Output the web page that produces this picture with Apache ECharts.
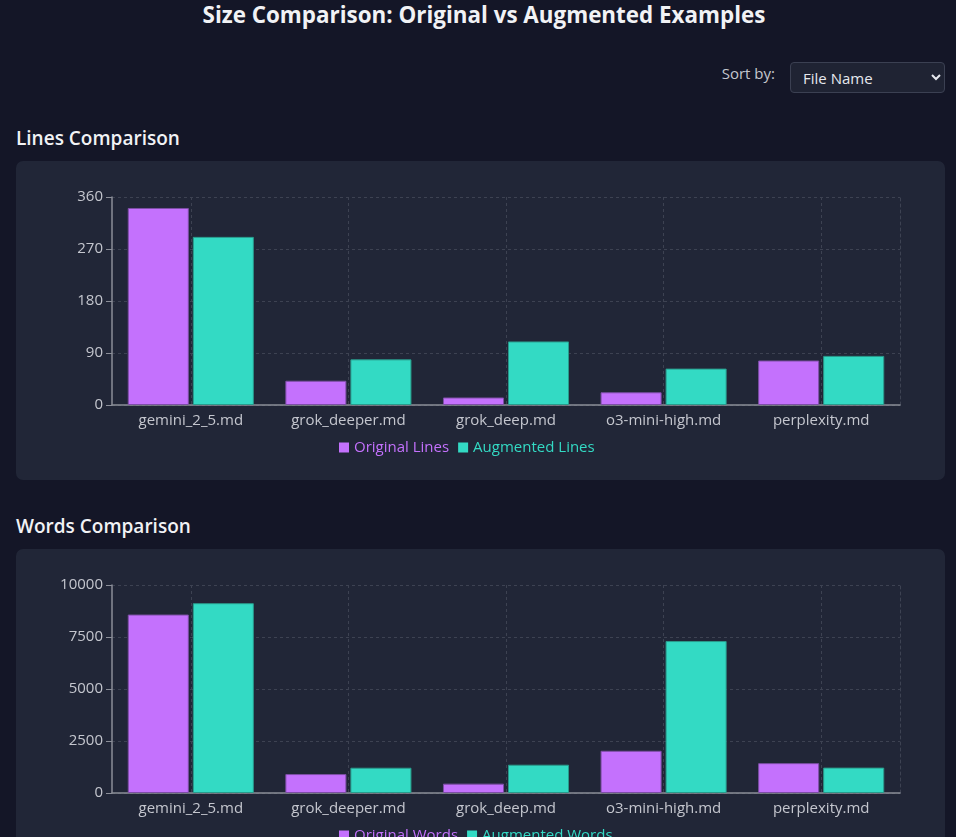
<!DOCTYPE html>
<html>
<head>
<meta charset="utf-8">
<title>Size Comparison</title>
<script src="https://cdn.jsdelivr.net/npm/echarts@6/dist/echarts.min.js"></script>
<style>
  html, body {
    margin: 0;
    padding: 0;
    width: 956px;
    height: 837px;
    overflow: hidden;
    background: #141627;
    font-family: 'Open Sans', 'Noto Sans', sans-serif;
    color: #f1f2f5;
  }
  h1 {
    position: absolute;
    left: 6px;
    width: 956px;
    top: 0;
    margin: 0;
    text-align: center;
    font-size: 22.4px;
    font-weight: 700;
    line-height: 30px;
  }
  .sort {
    position: absolute;
    top: 62px;
    right: 11px;
    display: flex;
    align-items: flex-start;
    gap: 15px;
  }
  .sort label {
    font-size: 15px;
    color: #c4c6ce;
    line-height: 22px;
  }
  .sort select {
    width: 155px;
    height: 31px;
    background: #1f2333;
    color: #e6e8ee;
    border: 1px solid #3b4052;
    border-radius: 4px;
    font-family: inherit;
    font-size: 15px;
    padding: 0 8px;
    color-scheme: dark;
  }
  h2 {
    position: absolute;
    left: 16px;
    margin: 0;
    font-size: 19px;
    font-weight: 600;
    line-height: 26px;
  }
  .card {
    position: absolute;
    left: 16px;
    width: 929px;
    height: 319px;
    background: #212637;
    border-radius: 7px;
  }
</style>
</head>
<body>
<h1>Size Comparison: Original vs Augmented Examples</h1>
<div class="sort">
  <label>Sort by:</label>
  <select><option>File Name</option></select>
</div>

<h2 style="top:125px">Lines Comparison</h2>
<div class="card" id="linesChart" style="top:161px"></div>

<h2 style="top:513px">Words Comparison</h2>
<div class="card" id="wordsChart" style="top:549px"></div>

<script>
// file names, sorted by name
const files = ['gemini_2_5.md', 'grok_deeper.md', 'grok_deep.md', 'o3-mini-high.md', 'perplexity.md'];

const originalLines = [341, 42, 13, 22, 77];
const augmentedLines = [291, 79, 110, 63, 85];

const originalWords = [8580, 910, 450, 2030, 1435];
const augmentedWords = [9125, 1215, 1360, 7305, 1220];

const purple = '#c471fd';
const teal = '#33dac4';
const gridColor = '#3d4252';
const axisColor = '#8b8e98';
const labelColor = '#c4c6ce';

function buildOption(origName, augName, orig, aug, max, interval) {
  return {
    textStyle: { fontFamily: "'Open Sans', 'Noto Sans', sans-serif" },
    grid: { left: 96, right: 45, top: 36, height: 208 },
    legend: {
      left: 318,
      top: 274,
      itemWidth: 10,
      itemHeight: 10,
      itemGap: 9,
      icon: 'rect',
      itemStyle: { borderWidth: 0 },
      textStyle: { fontSize: 15 },
      data: [
        { name: origName, textStyle: { color: purple } },
        { name: augName, textStyle: { color: teal } },
      ],
    },
    xAxis: {
      type: 'category',
      data: files,
      axisLine: { lineStyle: { color: axisColor, width: 1.5 } },
      axisTick: { alignWithLabel: true, length: 6, lineStyle: { color: axisColor } },
      axisLabel: { color: labelColor, fontSize: 15, margin: 8 },
      splitLine: {
        show: true,
        alignWithLabel: true,
        lineStyle: { color: gridColor, type: [3, 3] },
      },
    },
    yAxis: [
      {
        type: 'value',
        min: 0,
        max: max,
        interval: interval,
        axisLine: { show: true, lineStyle: { color: axisColor, width: 1.5 } },
        axisTick: { show: true, length: 6, lineStyle: { color: axisColor } },
        axisLabel: { color: labelColor, fontSize: 15, margin: 9, formatter: (v) => String(v) },
        splitLine: { lineStyle: { color: gridColor, type: [3, 3] } },
      },
      {
        type: 'value',
        position: 'right',
        min: 0,
        max: max,
        interval: interval,
        axisLine: { show: true, lineStyle: { color: gridColor, type: [3, 3] } },
        axisTick: { show: false },
        axisLabel: { show: false },
        splitLine: { show: false },
      },
    ],
    series: [
      {
        name: origName,
        type: 'bar',
        data: orig,
        barGap: '6.5%',
        barCategoryGap: '20%',
        itemStyle: { color: purple, borderColor: '#7d4fa6', borderWidth: 1 },
      },
      {
        name: augName,
        type: 'bar',
        data: aug,
        itemStyle: { color: teal, borderColor: '#2a9b8c', borderWidth: 1 },
      },
    ],
  };
}

const linesChart = echarts.init(document.getElementById('linesChart'));
linesChart.setOption(buildOption('Original Lines', 'Augmented Lines', originalLines, augmentedLines, 360, 90));

const wordsChart = echarts.init(document.getElementById('wordsChart'));
wordsChart.setOption(buildOption('Original Words', 'Augmented Words', originalWords, augmentedWords, 10000, 2500));
</script>
</body>
</html>
